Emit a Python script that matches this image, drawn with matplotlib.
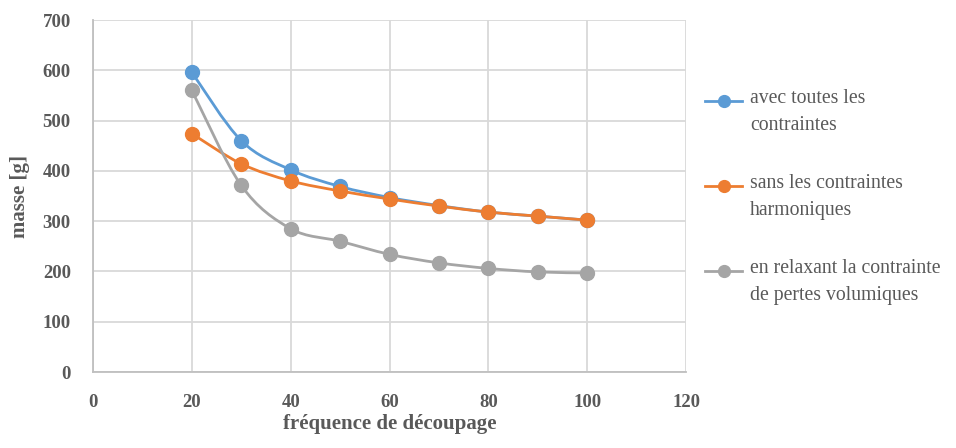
import matplotlib

matplotlib.use("Agg")
import matplotlib.pyplot as plt  # noqa: E402
import numpy as np  # noqa: E402
from matplotlib.lines import Line2D  # noqa: E402
from matplotlib.path import Path  # noqa: E402
from matplotlib.patches import PathPatch  # noqa: E402

frequence = [20, 30, 40, 50, 60, 70, 80, 90, 100]
masse_toutes = [596, 460, 402, 369, 347, 331, 318, 310, 302]
masse_sans_harmoniques = [474, 414, 380, 360, 344, 330, 318, 310, 302]
masse_relax_pertes = [560, 371, 285, 260, 234, 217, 206, 199, 197]

labels = [
    "avec toutes les\ncontraintes",
    "sans les contraintes\nharmoniques",
    "en relaxant la contrainte\nde pertes volumiques",
]
colors = ["#5B9BD5", "#ED7D31", "#A5A5A5"]

TEXT = "#595959"
GRID = "#D9D9D9"
plt.rcParams["font.family"] = ["Liberation Serif", "DejaVu Serif"]


def smooth_path(x, y):
    """Courbe lissee type Excel (Catmull-Rom -> Bezier cubique)."""
    pts = np.column_stack([x, y]).astype(float)
    verts = [pts[0]]
    codes = [Path.MOVETO]
    n = len(pts)
    for i in range(n - 1):
        p0 = pts[i - 1] if i > 0 else pts[i]
        p1 = pts[i]
        p2 = pts[i + 1]
        p3 = pts[i + 2] if i + 2 < n else pts[i + 1]
        c1 = p1 + (p2 - p0) / 6.0
        c2 = p2 - (p3 - p1) / 6.0
        verts += [c1, c2, p2]
        codes += [Path.CURVE4] * 3
    return Path(verts, codes)


fig = plt.figure(figsize=(9.56, 4.48), dpi=100)
ax = fig.add_axes([93 / 956, 1 - 372 / 448, (686 - 93) / 956, (372 - 20) / 448])

series = [masse_toutes, masse_sans_harmoniques, masse_relax_pertes]
for values, color in zip(series, colors):
    patch = PathPatch(smooth_path(frequence, values), facecolor="none", edgecolor=color,
                      linewidth=2.0, capstyle="round", joinstyle="round", zorder=3)
    ax.add_patch(patch)
    ax.plot(frequence, values, linestyle="none", marker="o", markersize=10,
            color=color, zorder=4)

ax.set_xlim(0, 120)
ax.set_ylim(0, 700)
ax.set_xticks(np.arange(0, 121, 20))
ax.set_yticks(np.arange(0, 701, 100))
ax.grid(True, color=GRID, linewidth=1.3)
ax.set_axisbelow(True)
for side in ["top", "right"]:
    ax.spines[side].set_visible(False)
for side in ["left", "bottom"]:
    ax.spines[side].set_color("#BFBFBF")
    ax.spines[side].set_linewidth(1.3)
ax.tick_params(length=0, labelsize=13.5, labelcolor=TEXT)
ax.tick_params(axis="x", pad=16)
ax.tick_params(axis="y", pad=16)
for lab in ax.get_xticklabels() + ax.get_yticklabels():
    lab.set_fontweight("bold")
ax.set_xlabel("fréquence de découpage", fontsize=15, fontweight="bold", color=TEXT, labelpad=2)
ax.set_ylabel("masse [g]", fontsize=15, fontweight="bold", color=TEXT, labelpad=9)

# legende a droite
for i, (label, color) in enumerate(zip(labels, colors)):
    yc = 1 - (101 + 85 * i) / 448
    fig.add_artist(Line2D([705 / 956, 742 / 956], [yc, yc], color=color, linewidth=2.0,
                          transform=fig.transFigure))
    fig.add_artist(Line2D([723.5 / 956], [yc], marker="o", markersize=8.5, color=color,
                          transform=fig.transFigure))
    fig.text(750 / 956, yc + 12 / 448, label, fontsize=14.2, color=TEXT, va="top",
             linespacing=1.6)

fig.savefig("out.png", dpi=100)
